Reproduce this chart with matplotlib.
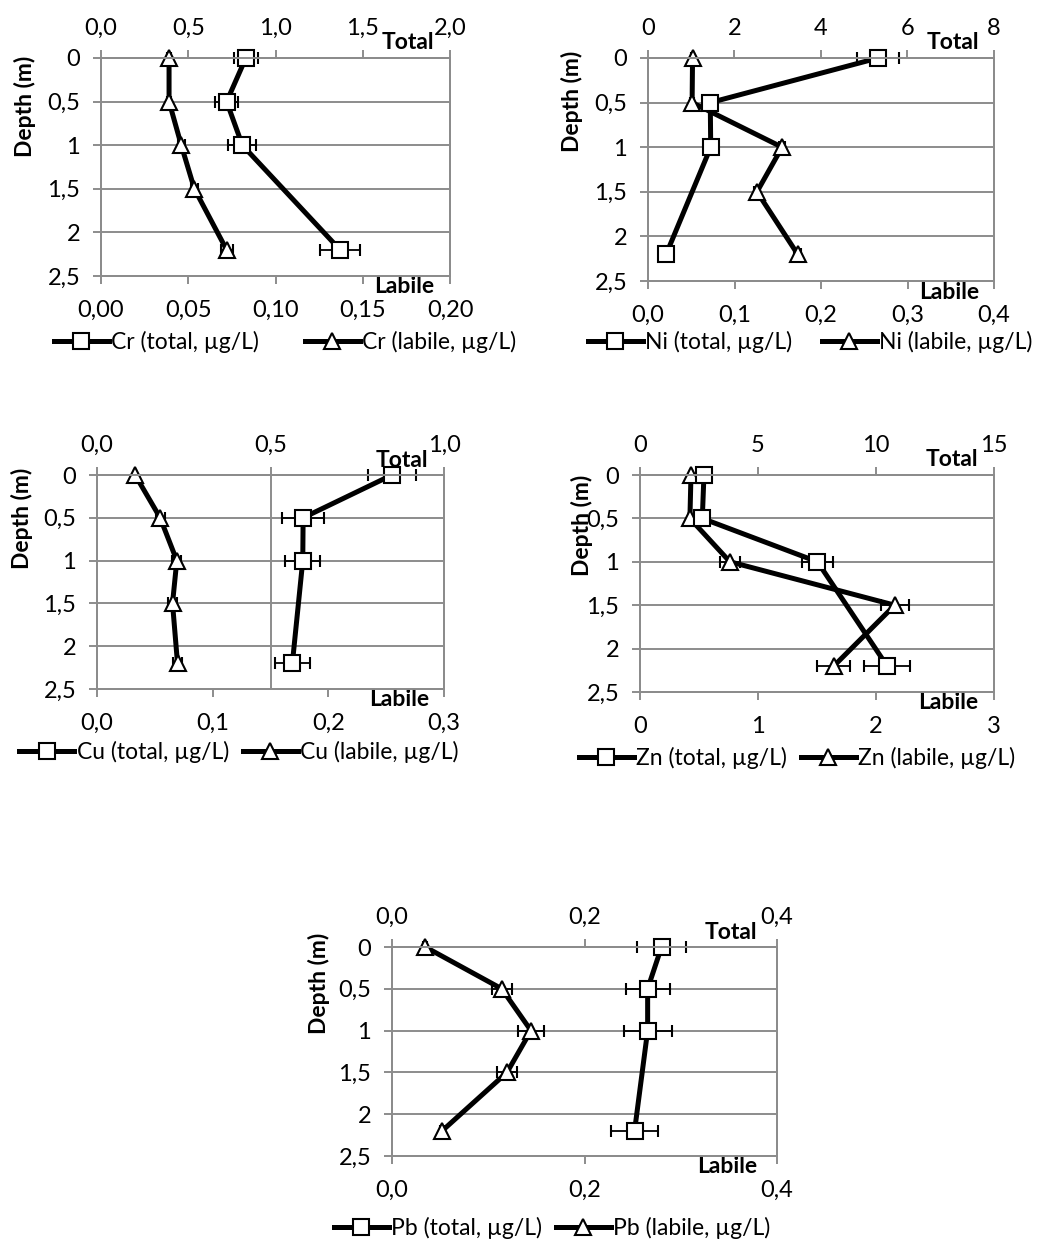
import numpy as np
import matplotlib
matplotlib.use("Agg")
import matplotlib.pyplot as plt

plt.rcParams['font.family'] = ['Lato', 'DejaVu Sans']

W, H = 1062, 1245

# depths (m) - total has no sample at 1.5 m
depth_total = [0, 0.5, 1, 2.2]
depth_labile = [0, 0.5, 1, 1.5, 2.2]
depth_ticks = [0, 0.5, 1, 1.5, 2, 2.5]
depth_labels = ['0', '0,5', '1', '1,5', '2', '2,5']

# Cr
cr_total = [0.83, 0.72, 0.81, 1.37]
cr_total_err = [0.07, 0.065, 0.08, 0.115]
cr_labile = [0.039, 0.039, 0.046, 0.0535, 0.072]
cr_labile_err = [0.001, 0.001, 0.002, 0.002, 0.0035]
cr_top_ticks = [0, 0.5, 1.0, 1.5, 2.0]
cr_top_labels = ['0,0', '0,5', '1,0', '1,5', '2,0']
cr_bot_ticks = [0, 0.05, 0.10, 0.15, 0.20]
cr_bot_labels = ['0,00', '0,05', '0,10', '0,15', '0,20']

# Ni
ni_total = [5.32, 1.44, 1.45, 0.42]
ni_total_err = [0.48, 0.05, 0.05, 0.05]
ni_labile = [0.0515, 0.051, 0.155, 0.126, 0.173]
ni_labile_err = [0.002, 0.002, 0.003, 0.003, 0.004]
ni_top_ticks = [0, 2, 4, 6, 8]
ni_top_labels = ['0', '2', '4', '6', '8']
ni_bot_ticks = [0, 0.1, 0.2, 0.3, 0.4]
ni_bot_labels = ['0,0', '0,1', '0,2', '0,3', '0,4']

# Cu
cu_total = [0.85, 0.594, 0.593, 0.563]
cu_total_err = [0.07, 0.06, 0.05, 0.05]
cu_labile = [0.033, 0.0546, 0.069, 0.0653, 0.0696]
cu_labile_err = [0.001, 0.004, 0.004, 0.004, 0.004]
cu_top_ticks = [0, 0.5, 1.0]
cu_top_labels = ['0,0', '0,5', '1,0']
cu_bot_ticks = [0, 0.1, 0.2, 0.3]
cu_bot_labels = ['0,0', '0,1', '0,2', '0,3']

# Zn
zn_total = [2.71, 2.64, 7.52, 10.47]
zn_total_err = [0.1, 0.1, 0.65, 0.97]
zn_labile = [0.432, 0.423, 0.762, 2.159, 1.643]
zn_labile_err = [0.01, 0.01, 0.085, 0.12, 0.14]
zn_top_ticks = [0, 5, 10, 15]
zn_top_labels = ['0', '5', '10', '15']
zn_bot_ticks = [0, 1, 2, 3]
zn_bot_labels = ['0', '1', '2', '3']

# Pb
pb_total = [0.280, 0.2656, 0.2656, 0.252]
pb_total_err = [0.025, 0.023, 0.025, 0.024]
pb_labile = [0.0346, 0.114, 0.1444, 0.1195, 0.052]
pb_labile_err = [0.002, 0.0104, 0.0137, 0.0106, 0.002]
pb_top_ticks = [0, 0.2, 0.4]
pb_top_labels = ['0,0', '0,2', '0,4']
pb_bot_ticks = [0, 0.2, 0.4]
pb_bot_labels = ['0,0', '0,2', '0,4']

GRID = '#8c8c8c'
FS = 17      # tick labels
FS_LEG = 16.5  # legend
FS_B = 16.5  # bold titles


def px_axes(fig, x0, y0, x1, y1):
    return fig.add_axes([x0 / W, 1 - y1 / H, (x1 - x0) / W, (y1 - y0) / H])


def panel(fig, box, name, total, total_err, labile, labile_err,
          top_ticks, top_labels, bot_ticks, bot_labels,
          ylab_xy, legend_xy, colspace):
    ax = px_axes(fig, *box)
    ax_top = ax.twiny()

    style = dict(color='black', lw=3.6, ms=11, mfc='white', mec='black', mew=1.5,
                 ecolor='black', elinewidth=1.3, capsize=4, capthick=1.3)
    # labile on the bottom axis, total on the top axis
    c_lab = ax.errorbar(labile, depth_labile, xerr=labile_err, marker='^', **style)
    c_tot = ax_top.errorbar(total, depth_total, xerr=total_err, marker='s', **style)
    for c in (c_lab, c_tot):
        c[0].set_clip_on(False)
        for art in c[1] + c[2]:
            art.set_clip_on(False)

    ax.set_xlim(bot_ticks[0], bot_ticks[-1])
    ax_top.set_xlim(top_ticks[0], top_ticks[-1])
    ax.set_ylim(2.5, 0)

    ax.set_yticks(depth_ticks)
    ax.set_yticklabels(depth_labels, fontsize=FS)
    ax.set_xticks(bot_ticks)
    ax.set_xticklabels(bot_labels, fontsize=FS)
    ax_top.set_xticks(top_ticks)
    ax_top.set_xticklabels(top_labels, fontsize=FS)

    # vertical grid follows the total (top) axis, drawn under both series
    scale = bot_ticks[-1] / top_ticks[-1]
    ax.set_xticks([t * scale for t in top_ticks], minor=True)
    ax.grid(True, which='minor', axis='x', color=GRID, lw=1.4)
    ax.grid(True, which='major', axis='y', color=GRID, lw=1.4)
    ax.tick_params(axis='x', which='minor', length=0)

    for a in (ax, ax_top):
        for s in a.spines.values():
            s.set_color(GRID)
            s.set_linewidth(1.4)
    ax.tick_params(axis='both', which='major', length=6, width=1.4, color=GRID, pad=9)
    ax.tick_params(axis='x', which='major', pad=11)
    ax_top.tick_params(axis='x', length=6, width=1.4, color=GRID, pad=8)

    ax.text(0.87, -0.05, 'Labile', transform=ax.transAxes, ha='center', va='center',
            fontsize=FS_B, fontweight='bold')
    ax.text(0.88, 1.07, 'Total', transform=ax.transAxes, ha='center', va='center',
            fontsize=FS_B, fontweight='bold')
    fig.text(ylab_xy[0] / W, 1 - ylab_xy[1] / H, 'Depth (m)', rotation=90,
             ha='center', va='center', fontsize=FS_B, fontweight='bold')

    fig.legend([c_tot[0], c_lab[0]],
               [f'{name} (total, µg/L)', f'{name} (labile, µg/L)'], loc='center',
               bbox_to_anchor=(legend_xy[0] / W, 1 - legend_xy[1] / H),
               ncol=2, frameon=False, fontsize=FS_LEG, handlelength=2.4,
               handletextpad=0.1, columnspacing=colspace, borderpad=0)


fig = plt.figure(figsize=(W / 100, H / 100), dpi=100)

panel(fig, (101, 58, 450, 276), 'Cr', cr_total, cr_total_err, cr_labile, cr_labile_err,
      cr_top_ticks, cr_top_labels, cr_bot_ticks, cr_bot_labels, (25, 106), (285, 342), 2.0)
panel(fig, (648, 58, 994, 281), 'Ni', ni_total, ni_total_err, ni_labile, ni_labile_err,
      ni_top_ticks, ni_top_labels, ni_bot_ticks, ni_bot_labels, (572, 101), (810, 342), 1.3)
panel(fig, (97, 475, 444, 689), 'Cu', cu_total, cu_total_err, cu_labile, cu_labile_err,
      cu_top_ticks, cu_top_labels, cu_bot_ticks, cu_bot_labels, (22, 518), (239, 752), 0.6)
panel(fig, (640, 475, 994, 692), 'Zn', zn_total, zn_total_err, zn_labile, zn_labile_err,
      zn_top_ticks, zn_top_labels, zn_bot_ticks, zn_bot_labels, (582, 525), (797, 758), 0.6)
panel(fig, (392, 947, 777, 1156), 'Pb', pb_total, pb_total_err, pb_labile, pb_labile_err,
      pb_top_ticks, pb_top_labels, pb_bot_ticks, pb_bot_labels, (319, 983), (552, 1228), 0.6)

fig.savefig('out.png', dpi=100, facecolor='white')
